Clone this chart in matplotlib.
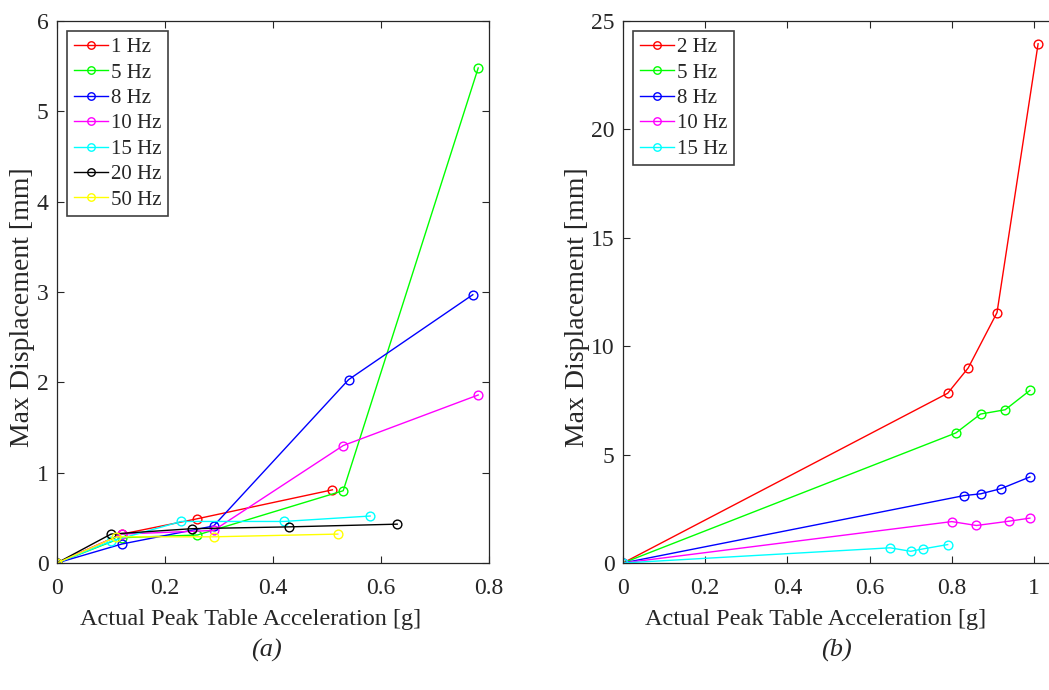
import matplotlib
matplotlib.use("Agg")
import matplotlib.pyplot as plt

# Peak table acceleration [g] and max displacement [mm], panel (a)
labels_a = ["1 Hz", "5 Hz", "8 Hz", "10 Hz", "15 Hz", "20 Hz", "50 Hz"]
acc_a_1 = [0, 0.12, 0.26, 0.51]
disp_a_1 = [0, 0.32, 0.49, 0.81]
acc_a_5 = [0, 0.12, 0.26, 0.53, 0.78]
disp_a_5 = [0, 0.28, 0.31, 0.80, 5.48]
acc_a_8 = [0, 0.12, 0.29, 0.54, 0.77]
disp_a_8 = [0, 0.21, 0.41, 2.03, 2.97]
acc_a_10 = [0, 0.12, 0.29, 0.53, 0.78]
disp_a_10 = [0, 0.32, 0.36, 1.30, 1.86]
acc_a_15 = [0, 0.10, 0.23, 0.42, 0.58]
disp_a_15 = [0, 0.24, 0.46, 0.46, 0.52]
acc_a_20 = [0, 0.10, 0.25, 0.43, 0.63]
disp_a_20 = [0, 0.32, 0.38, 0.40, 0.43]
acc_a_50 = [0, 0.11, 0.29, 0.52]
disp_a_50 = [0, 0.29, 0.29, 0.32]

# Panel (b)
labels_b = ["2 Hz", "5 Hz", "8 Hz", "10 Hz", "15 Hz"]
acc_b_2 = [0, 0.79, 0.84, 0.91, 1.01]
disp_b_2 = [0, 7.83, 9.00, 11.55, 23.95]
acc_b_5 = [0, 0.81, 0.87, 0.93, 0.99]
disp_b_5 = [0, 6.00, 6.87, 7.07, 7.96]
acc_b_8 = [0, 0.83, 0.87, 0.92, 0.99]
disp_b_8 = [0, 3.11, 3.19, 3.43, 3.97]
acc_b_10 = [0, 0.80, 0.86, 0.94, 0.99]
disp_b_10 = [0, 1.91, 1.73, 1.93, 2.07]
acc_b_15 = [0, 0.65, 0.70, 0.73, 0.79]
disp_b_15 = [0, 0.70, 0.54, 0.65, 0.85]

colors_a = ["#ff0000", "#00ff00", "#0000ff", "#ff00ff", "#00ffff", "#000000", "#ffff00"]
colors_b = ["#ff0000", "#00ff00", "#0000ff", "#ff00ff", "#00ffff"]

plt.rcParams["font.family"] = ["Liberation Serif", "DejaVu Serif"]
TXT = "#262626"

W, H = 1049, 690
fig = plt.figure(figsize=(W / 100, H / 100), dpi=100)


def px_axes(left, right, top, bottom):
    return fig.add_axes([left / W, 1 - bottom / H, (right - left) / W, (bottom - top) / H])


def style(ax, xlabel_x, ylabel_x):
    ax.tick_params(direction="in", length=5, width=0.8, colors=TXT, labelsize=17,
                   top=True, right=True)
    ax.tick_params(axis="x", pad=11)
    ax.tick_params(axis="y", pad=6)
    for s in ax.spines.values():
        s.set_color(TXT)
        s.set_linewidth(0.9)
    ax.set_xlabel("Actual Peak Table Acceleration [g]", fontsize=17.5, color=TXT, labelpad=7)
    ax.xaxis.label.set_x(xlabel_x)
    ax.set_ylabel("Max Displacement [mm]", fontsize=20, color=TXT)
    ax.yaxis.set_label_coords(ylabel_x, 0.472)


def series(ax, xs, ys, colors, labels):
    for x, y, c, lab in zip(xs, ys, colors, labels):
        ax.plot(x, y, "-o", color=c, lw=1.0, ms=6.3, mfc="none", mew=1.0, label=lab)
    leg = ax.legend(loc="upper left", bbox_to_anchor=(0.0, 1.0), fontsize=15,
                    fancybox=False, framealpha=1, edgecolor="#404040",
                    handlelength=1.65, handletextpad=0.15, labelspacing=0.28,
                    borderpad=0.3, borderaxespad=0.5, markerscale=0.85)
    leg.get_frame().set_linewidth(1.2)
    for t in leg.get_texts():
        t.set_color(TXT)


# (a)
ax1 = px_axes(57, 489, 21, 563)
series(ax1,
       [acc_a_1, acc_a_5, acc_a_8, acc_a_10, acc_a_15, acc_a_20, acc_a_50],
       [disp_a_1, disp_a_5, disp_a_8, disp_a_10, disp_a_15, disp_a_20, disp_a_50],
       colors_a, labels_a)
ax1.set_xlim(0, 0.8)
ax1.set_ylim(0, 6)
ax1.set_xticks([0, 0.2, 0.4, 0.6, 0.8])
ax1.set_xticklabels(["0", "0.2", "0.4", "0.6", "0.8"])
ax1.set_yticks(range(0, 7))
style(ax1, (251 - 57) / 432, (35 - 57) / 432)

# (b)
ax2 = px_axes(623, 1049, 21, 563)
series(ax2,
       [acc_b_2, acc_b_5, acc_b_8, acc_b_10, acc_b_15],
       [disp_b_2, disp_b_5, disp_b_8, disp_b_10, disp_b_15],
       colors_b, labels_b)
ax2.set_xlim(0, (1049 - 623) / 411)
ax2.set_ylim(0, 25)
ax2.set_xticks([0, 0.2, 0.4, 0.6, 0.8, 1.0])
ax2.set_xticklabels(["0", "0.2", "0.4", "0.6", "0.8", "1"])
ax2.set_yticks(range(0, 26, 5))
style(ax2, (816 - 623) / 426, (590 - 623) / 426)
ax2.spines["right"].set_visible(False)
ax2.tick_params(right=False)

fig.text(266 / W, 1 - 650 / H, "(a)", fontsize=19, style="italic", color=TXT,
         ha="center", va="center")
fig.text(836 / W, 1 - 650 / H, "(b)", fontsize=19, style="italic", color=TXT,
         ha="center", va="center")

fig.savefig("out.png", dpi=100, facecolor="white")
